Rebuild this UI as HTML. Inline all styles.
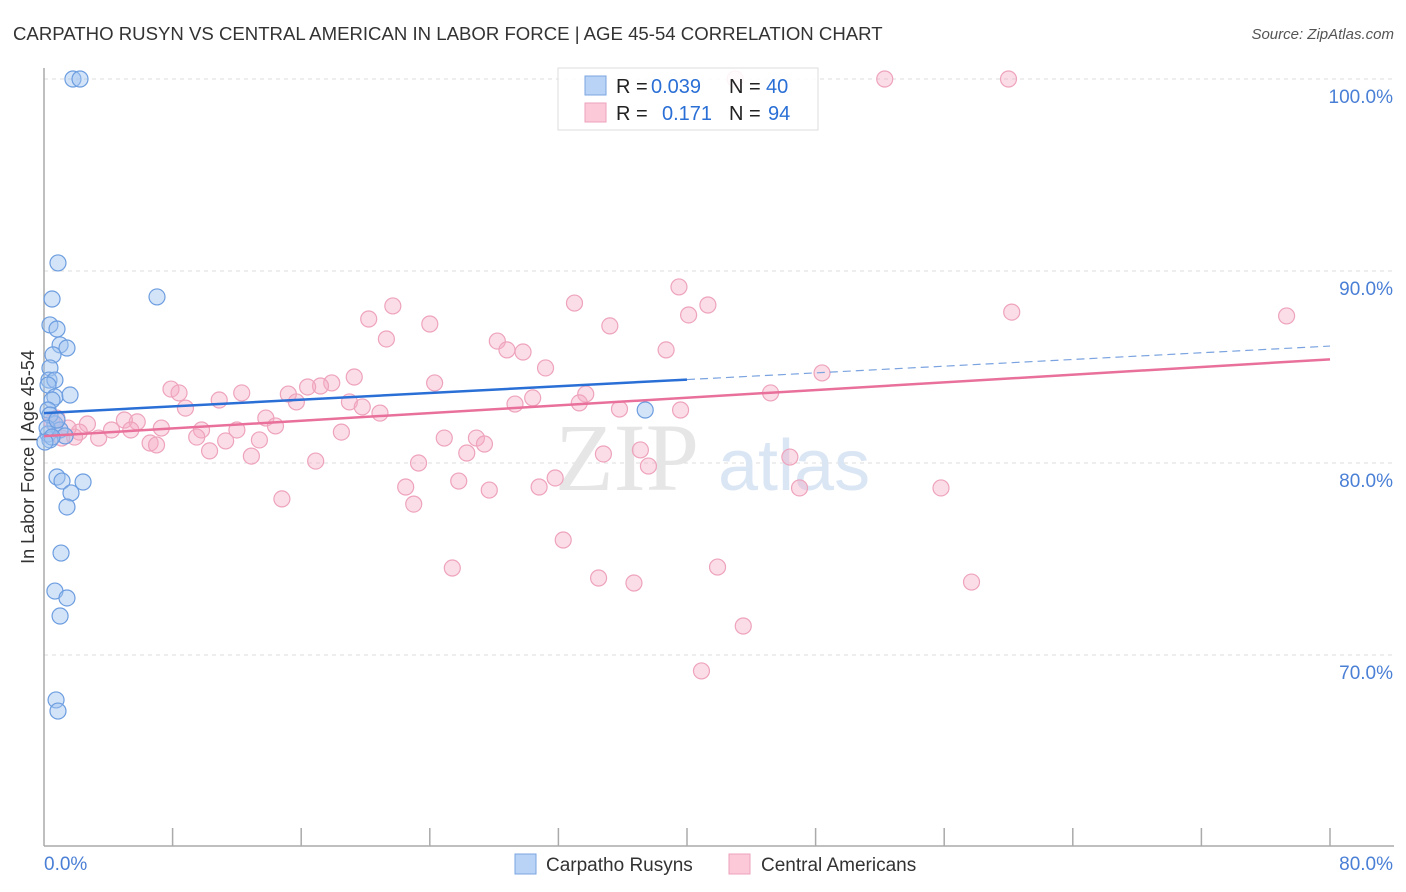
<!DOCTYPE html>
<html><head><meta charset="utf-8"><style>
body{margin:0;background:#fff;font-family:"Liberation Sans",sans-serif;}
#wrap{position:relative;width:1406px;height:892px;overflow:hidden}
</style></head><body>
<div id="wrap">
<svg id="svg" width="1406" height="892"></svg>
</div>
<script>
const blueX=[1.80,2.24,0.87,0.50,7.03,0.37,0.81,1.0,1.43,0.56,0.37,0.31,0.68,0.25,0.68,1.62,0.5,0.25,0.68,0.25,0.37,1.0,1.31,0.81,1.12,2.43,1.68,1.43,1.06,0.68,1.43,1.0,0.75,0.87,37.4,0.37,0.19,0.5,0.06,0.81];
const blueY=[100,100,90.42,88.54,88.65,87.19,86.98,86.15,85.99,85.63,84.95,84.32,84.32,84.06,83.44,83.54,83.28,82.76,82.03,81.51,81.2,81.72,81.41,79.27,79.06,79.01,78.44,77.71,75.31,73.33,72.97,72.03,67.66,67.08,82.76,82.5,81.82,81.35,81.09,82.24];
const pinkX=[43.0,52.3,60.0,39.5,41.3,33.0,21.7,20.2,24.0,35.2,40.1,60.2,77.3,21.3,28.2,28.8,29.8,38.7,31.2,48.4,19.3,17.9,17.2,16.4,15.2,12.3,7.9,8.4,8.8,10.9,15.7,19.0,19.8,20.9,24.3,29.3,30.4,33.7,33.3,35.8,39.6,45.2,13.8,14.4,12.0,9.8,9.5,7.3,5.8,5.0,4.2,5.4,3.4,2.7,2.2,1.9,1.5,1.1,0.8,0.5,6.6,7.0,10.3,11.3,12.9,13.4,18.5,24.9,26.9,26.3,27.4,37.1,16.9,23.3,25.8,22.5,27.7,31.8,30.8,34.8,37.6,46.4,47.0,55.8,14.8,23.0,32.3,25.4,34.5,36.7,41.9,57.7,43.5,40.9];
const pinkY=[100,100,100,89.17,88.23,88.33,88.18,87.5,87.24,87.14,87.71,87.86,87.66,86.46,86.35,85.89,85.78,85.89,84.95,84.69,84.48,84.17,84.01,83.96,83.59,83.65,83.85,83.65,82.86,83.28,83.18,83.18,82.92,82.6,84.17,83.07,83.39,83.59,83.13,82.81,82.76,83.65,82.34,81.93,81.72,81.72,81.35,81.82,82.14,82.24,81.72,81.72,81.3,82.03,81.61,81.35,81.82,81.3,82.34,82.14,81.04,80.94,80.63,81.15,80.36,81.2,81.61,81.3,81.3,80.52,80.99,80.68,80.1,80.0,79.06,78.75,78.59,79.22,78.75,80.47,79.84,80.31,78.7,78.7,78.13,77.86,75.99,74.53,74.01,73.75,74.58,73.8,71.51,69.17];
const blueTrend=[82.6,86.09];
const pinkTrend=[81.4,85.4];
const yTicks=[100,90,80,70];
const yTickLabels=["100.0%","90.0%","80.0%","70.0%"];
const NS="http://www.w3.org/2000/svg";
const svg=document.getElementById('svg');
const X=v=>44+v*1286/80;
const Y=v=>79+(100-v)*19.2;
function mk(tag,attrs,parent){const e=document.createElementNS(NS,tag);for(const k in attrs)e.setAttribute(k,attrs[k]);(parent||svg).appendChild(e);return e;}
function txt(s,attrs){const e=mk('text',attrs);e.textContent=s;return e;}
let t=txt("CARPATHO RUSYN VS CENTRAL AMERICAN IN LABOR FORCE | AGE 45-54 CORRELATION CHART",{x:13,y:40,'font-size':18.6,fill:'#333'});

t=txt("Source: ZipAtlas.com",{x:1394,y:39,'font-size':15,fill:'#555','text-anchor':'end','font-style':'italic'});

yTicks.forEach((v,i)=>{
 const g=mk('line',{x1:44,x2:1394,y1:Y(v),y2:Y(v),stroke:'#ddd','stroke-dasharray':'4,4'});
 
 const l=txt(yTickLabels[i],{x:1393,y:Y(v)+24,'font-size':19,fill:'#4a7fd6','text-anchor':'end'});
 
});
let a=mk('line',{x1:44,x2:44,y1:68,y2:846,stroke:'#aaa','stroke-width':1.5});

a=mk('line',{x1:44,x2:1394,y1:846,y2:846,stroke:'#aaa','stroke-width':1.5});

for(let i=1;i<=10;i++){const tk=mk('line',{x1:X(i*8),x2:X(i*8),y1:828,y2:846,stroke:'#aaa','stroke-width':1.5});
 }
t=txt("0.0%",{x:44,y:870,'font-size':19,fill:'#4a7fd6'});
t=txt("80.0%",{x:1393,y:870,'font-size':19,fill:'#4a7fd6','text-anchor':'end'});
t=txt("In Labor Force | Age 45-54",{x:0,y:0,'font-size':18,fill:'#333','text-anchor':'middle',transform:'translate(34,457) rotate(-90)'});

t=txt("ZIP",{x:555,y:490,'font-size':96,fill:'#e6e6e6','font-family':'Liberation Serif'});
t=txt("atlas",{x:718,y:490,'font-size':72,fill:'#dbe6f5'});
pinkX.forEach((x,i)=>{const c=mk('circle',{cx:X(x),cy:Y(pinkY[i]),r:8,fill:'rgba(246,170,195,0.4)',stroke:'#eea3bb','stroke-width':1.2});
 });
blueX.forEach((x,i)=>{const c=mk('circle',{cx:X(x),cy:Y(blueY[i]),r:8,fill:'rgba(160,196,240,0.45)',stroke:'#6c9de0','stroke-width':1.2});
 });
const bAt=x=>blueTrend[0]+(blueTrend[1]-blueTrend[0])*x/80;
const pAt=x=>pinkTrend[0]+(pinkTrend[1]-pinkTrend[0])*x/80;
let l=mk('line',{x1:X(0),y1:Y(bAt(0)),x2:X(40),y2:Y(bAt(40)),stroke:'#2a6fd6','stroke-width':2.5});

l=mk('line',{x1:X(40),y1:Y(bAt(40)),x2:X(80),y2:Y(bAt(80)),stroke:'#7aa3e0','stroke-width':1.2,'stroke-dasharray':'8,5'});

l=mk('line',{x1:X(0),y1:Y(pAt(0)),x2:X(80),y2:Y(pAt(80)),stroke:'#e8709a','stroke-width':2.5});

const lg=mk('g',{});
mk('rect',{x:558,y:68,width:260,height:62,fill:'rgba(255,255,255,0.88)',stroke:'#ddd'},lg);
mk('rect',{x:585,y:76,width:21,height:19,fill:'#b8d3f5',stroke:'#7aa6e0'},lg);
mk('rect',{x:585,y:103,width:21,height:19,fill:'#fbc9d8',stroke:'#eea3bb'},lg);
function lt(s,x,y,c){const e=mk('text',{x:x,y:y,'font-size':20,fill:c},lg);e.textContent=s;return e;}
lt("R =",616,93,'#222');lt("0.039",651,93,'#2a6fd6');lt("N =",729,93,'#222');lt("40",766,93,'#2a6fd6');
lt("R =",616,120,'#222');lt("0.171",662,120,'#2a6fd6');lt("N =",729,120,'#222');lt("94",768,120,'#2a6fd6');
const bl=mk('g',{});
mk('rect',{x:515,y:854,width:21,height:20,fill:'#b8d3f5',stroke:'#7aa6e0'},bl);
let e=mk('text',{x:546,y:871,'font-size':19,fill:'#333'},bl);e.textContent="Carpatho Rusyns";
mk('rect',{x:729,y:854,width:21,height:20,fill:'#fbc9d8',stroke:'#eea3bb'},bl);
e=mk('text',{x:761,y:871,'font-size':19,fill:'#333'},bl);e.textContent="Central Americans";
</script>
</body></html>
